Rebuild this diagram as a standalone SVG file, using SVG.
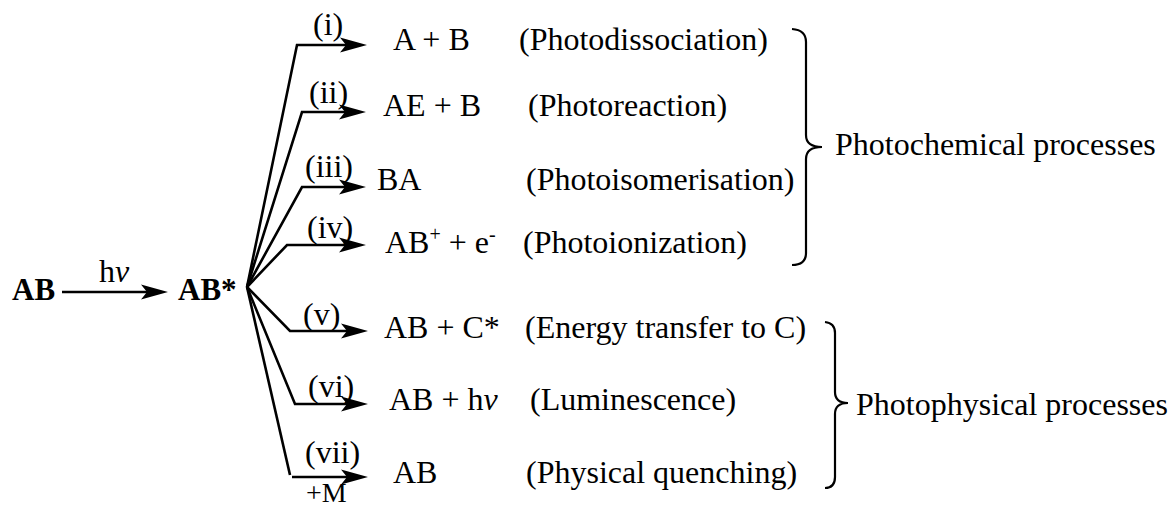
<svg xmlns="http://www.w3.org/2000/svg" width="1173" height="510" viewBox="0 0 1173 510">
<style>
text{font-family:"Liberation Serif","Times New Roman",serif;font-size:32px;fill:#000}
.b{font-weight:bold;font-size:31px}
.sup{font-size:20px}
.sm{font-size:28px}
.ln{fill:none;stroke:#000;stroke-width:2.6;stroke-linejoin:miter}
.br{fill:none;stroke:#000;stroke-width:2.2}
</style>
<defs>
<marker id="ah" markerUnits="userSpaceOnUse" markerWidth="28" markerHeight="16" refX="6" refY="7.5" orient="auto" overflow="visible">
<path d="M0,0 L27,7.5 L0,15 L6,7.5 z" fill="#000"/>
</marker>
</defs>
<rect width="1173" height="510" fill="#fff"/>
<g id="connectors">
<path class="ln" d="M62,292 L147,292" marker-end="url(#ah)"/>
<path class="ln" d="M247,287 L297,45 L346,45" marker-end="url(#ah)"/>
<path class="ln" d="M247,287 L302,112 L345,112" marker-end="url(#ah)"/>
<path class="ln" d="M247,287 L302,187 L345,187" marker-end="url(#ah)"/>
<path class="ln" d="M247,287 L287,245 L345,245" marker-end="url(#ah)"/>
<path class="ln" d="M247,287 L290,331 L347,331" marker-end="url(#ah)"/>
<path class="ln" d="M247,287 L295,404 L347,404" marker-end="url(#ah)"/>
<path class="ln" d="M247,287 L290,475"/>
<path class="ln" d="M292,477 L347,477" marker-end="url(#ah)"/>
</g>
<g id="node-AB"><text class="b" x="12" y="300">AB</text></g>
<g id="label-hv"><text x="99" y="282">h<tspan font-style="italic">ν</tspan></text></g>
<g id="node-ABstar"><text class="b" x="178" y="300">AB*</text></g>
<g id="labels">
<text x="313" y="35">(i)</text>
<text x="309" y="103">(ii)</text>
<text x="305" y="177">(iii)</text>
<text x="307" y="238">(iv)</text>
<text x="303" y="325">(v)</text>
<text x="308" y="397">(vi)</text>
<text x="305" y="463">(vii)</text>
<text class="sm" x="306" y="502">+M</text>
</g>
<g id="node-i"><text x="393" y="50">A + B</text><text x="519" y="50">(Photodissociation)</text></g>
<g id="node-ii"><text x="383" y="116">AE + B</text><text x="528" y="116">(Photoreaction)</text></g>
<g id="node-iii"><text x="377" y="190">BA</text><text x="526" y="190">(Photoisomerisation)</text></g>
<g id="node-iv"><text x="385" y="253">AB<tspan class="sup" dy="-12">+</tspan><tspan dy="12"> + e</tspan><tspan class="sup" dy="-12">-</tspan></text><text x="523" y="253">(Photoionization)</text></g>
<g id="node-v"><text x="384" y="338">AB + C*</text><text x="525" y="338">(Energy transfer to C)</text></g>
<g id="node-vi"><text x="389" y="410">AB + h<tspan font-style="italic">ν</tspan></text><text x="530" y="410">(Luminescence)</text></g>
<g id="node-vii"><text x="393" y="483">AB</text><text x="526" y="483">(Physical quenching)</text></g>
<g id="group-photochemical">
<path class="br" d="M792,29 Q806,30 806,42 L806,135 Q806,147 822,147 Q806,147 806,159 L806,253 Q806,265 792,265"/>
<text x="835" y="155">Photochemical processes</text>
</g>
<g id="group-photophysical">
<path class="br" d="M825,322 Q835,323 835,333 L835,392 Q835,403 848,403 Q835,403 835,414 L835,477 Q835,488 825,488"/>
<text x="856" y="415">Photophysical processes</text>
</g>
</svg>
